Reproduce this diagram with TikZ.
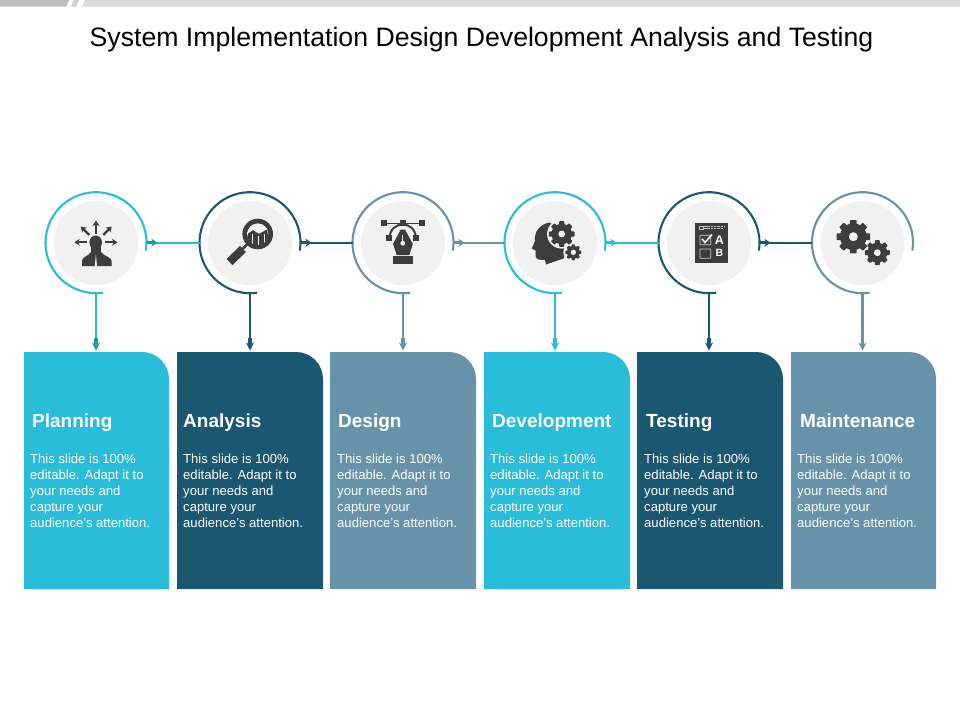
\documentclass[tikz,border=0pt]{standalone}
\usepackage{fontspec}
\setmainfont{Liberation Sans}
\usetikzlibrary{arrows.meta,calc,decorations.markings}
\definecolor{cyanc}{HTML}{29BDD9}
\definecolor{darkc}{HTML}{1A5872}
\definecolor{slatec}{HTML}{6693A9}
\definecolor{tealc}{HTML}{1B9B9B}
\definecolor{softgrey}{HTML}{F1F1F1}
\definecolor{icondark}{HTML}{3D3D3D}
\definecolor{barone}{HTML}{BEBEBE}
\definecolor{bartwo}{HTML}{DADADA}
\tikzset{
  x=1pt,y=1pt,
  ringnode/.style={circle,minimum size=101pt,inner sep=0pt,outer sep=0pt},
  discnode/.style={circle,minimum size=84pt,inner sep=0pt,fill=softgrey},
  cardbox/.style={rectangle,inner sep=0pt,outer sep=0pt},
  headtext/.style={anchor=base west,inner sep=0pt,text=white,font=\fontsize{19}{22}\selectfont\bfseries},
  bodytext/.style={anchor=north west,inner sep=0pt,align=left,text=white,font=\fontsize{13.1}{16}\selectfont},
  arcline/.style={line width=2.1pt},
  linkline/.style={line width=2.1pt},
  icon/.style={fill=icondark,draw=none},
  iconline/.style={draw=icondark,line width=2.3pt,-{Stealth[length=5.5pt,width=7pt]}},
}
\newcommand{\mygear}[5]{%
  \begin{scope}[shift={(#1,#2)}]
    \foreach \ang in {0,45,...,315}{
      \fill[icon,rotate=\ang,rounded corners=0.8pt] ({-.2*#3},0) rectangle ({.2*#3},{#3});
    }
    \fill[icon] (0,0) circle ({.8*#3});
    \fill[#5] (0,0) circle (#4);
  \end{scope}}
\newcommand{\slidetext}{This slide is 100\%\\editable. Adapt it to\\your needs and\\capture your\\audience's attention.}
\begin{document}
\begin{tikzpicture}
\useasboundingbox (0,-720) rectangle (960,0);
\fill[white] (0,-720) rectangle (960,0);
% top bar
\fill[barone] (0,0) -- (69,0) -- (66,-6.5) -- (0,-6.5) -- cycle;
\fill[barone!70!white] (74,0) -- (79,0) -- (76,-6.5) -- (71,-6.5) -- cycle;
\fill[bartwo] (85,0) -- (960,0) -- (960,-6.5) -- (82,-6.5) -- cycle;
% title
\node[anchor=base,inner sep=0pt,font=\fontsize{26.65}{30}\selectfont] (title) at (481.5,-46) {System Implementation Design Development Analysis and Testing};
% cards and rings
\foreach \i/\cx/\xa/\xb/\xh/\xt/\col/\lab in {
  1/96/24/169/32/30/cyanc/Planning,
  2/250/177/323/183/183/darkc/Analysis,
  3/403/330/476/338/337/slatec/Design,
  4/555/484/630/492/490/cyanc/Development,
  5/709/637/783/646/644/darkc/Testing,
  6/862.5/791/936/800/797/slatec/Maintenance}{
  \fill[\col] (\xa,-589) -- (\xa,-352) -- ({\xb-27},-352) arc[start angle=90,end angle=0,radius=27] -- (\xb,-589) -- cycle;
  \node[cardbox,minimum width={(\xb-\xa)*1pt},minimum height=237pt] (card\i) at ({(\xa+\xb)/2},-470.5) {};
  \node[headtext] (head\i) at (\xh,-427) {\lab};
  \node[bodytext] (body\i) at (\xt,-453.3) {\slidetext};
  \node[ringnode] (ring\i) at (\cx,-242.7) {};
  \node[discnode] (disc\i) at (\cx,-243.2) {};
  \draw[\col,arcline] ($(ring\i.center)+(-9:50.5)$) arc[start angle=-9,end angle=278,radius=50.5];
}
% vertical connectors
\foreach \i/\col/\tipc in {1/cyanc/tealc,2/darkc/darkc,3/slatec/slatec,4/cyanc/cyanc,5/darkc/darkc,6/slatec/slatec}{
  \draw[\col,linkline,shorten >=1.5pt,-{Stealth[length=8pt,width=8pt,color=\tipc]}] (ring\i.south) -- (ring\i.south |- card\i.north);
  \draw[\tipc,line width=3.2pt] ($(ring\i.south |- card\i.north)+(0,8)$) -- ++(0,6);
}
% horizontal connectors
\foreach \i/\j/\col/\tipc in {1/2/cyanc/tealc,2/3/darkc/darkc,3/4/slatec/slatec,4/5/cyanc/cyanc,5/6/darkc/darkc}{
  \draw[\col,linkline,postaction={decorate,decoration={markings,mark=at position 11pt with {\arrow[\tipc]{Stealth[length=6pt,width=8pt]}}}}] (ring\i.east) -- (ring\j.west);
  \draw[\tipc,line width=3.2pt] (ring\i.east) -- ++(6,0);
}
% icon 1: person with arrows
\fill[icon] (95.7,-242.5) ellipse (6.3 and 7);
\fill[icon] (90.5,-245) rectangle (101,-256);
\fill[icon] (82,-266) -- (82,-261) .. controls (82,-257) and (88,-256.5) .. (91,-252) -- (101,-252) .. controls (104,-256.5) and (111.7,-257) .. (111.7,-261) -- (111.7,-266) -- cycle;
\fill[softgrey] (95.9,-254) -- (97,-266) -- (94.8,-266) -- cycle;
\draw[iconline] (96,-234) -- (96,-220.5);
\draw[iconline] (89.3,-235) -- (80.7,-226.5);
\draw[iconline] (103.3,-235) -- (111.7,-226.5);
\draw[iconline] (86.7,-242.3) -- (74.3,-242.3);
\draw[iconline] (105,-242.3) -- (117.5,-242.3);
% icon 2: magnifier
\draw[icondark,line width=2.6pt] (250,-241.5) -- (241,-250.5);
\draw[icondark,line width=8.5pt] (243,-249) -- (229.5,-262);
\fill[icon] (257.7,-234) circle (15.3);
\fill[softgrey] (257.7,-234) circle (10.6);
\begin{scope}
  \clip (257.7,-234) circle (11);
  \fill[icon] (248,-233) -- (253,-229.5) -- (259,-233) -- (267,-229) -- (270,-250) -- (246,-250) -- cycle;
  \fill[softgrey] (252.2,-234) rectangle (253.4,-250);
  \fill[softgrey] (258,-236) rectangle (259.2,-250);
  \fill[softgrey] (263.5,-234) rectangle (264.7,-250);
  \draw[white,line width=1.1pt] (246,-234) -- (253,-229.5) -- (259,-233) -- (268,-228);
\end{scope}
% icon 3: pen tool
\draw[icondark,line width=1.6pt] (384.3,-223.3) -- (421.7,-223.3);
\draw[icondark,line width=2pt] (389.3,-238.3) .. controls (390,-229) and (396,-224.5) .. (402.7,-224.5) .. controls (409.5,-224.5) and (415.5,-229) .. (416,-238.3);
\foreach \qx/\qy in {384.3/223.3,402.7/223.3,421.7/223.3,389.3/238.3,416/238.3}{
  \fill[icon] (\qx-3,-\qy-3) rectangle (\qx+3,-\qy+3);
}
\fill[softgrey] (402.7,-228.5) -- (391,-245) -- (414.5,-245) -- cycle;
\fill[icon] (400.7,-229.5) -- (405,-229.5) -- (412.8,-244) -- (409.3,-255) -- (396.7,-255) -- (393,-244) -- cycle;
\fill[softgrey] (402.8,-243.3) circle (2.4);
\draw[softgrey,line width=.9pt] (402.8,-243.3) -- (402.8,-235);
\fill[icon] (392.7,-256) rectangle (413.3,-263.7);
% icon 4: head with gears
\fill[icon] (549,-222.5) .. controls (540,-225) and (534,-231) .. (535,-241) -- (531.7,-248.5) -- (535.5,-250.5) -- (535.5,-256) .. controls (536,-260) and (541,-260) .. (545,-260) -- (546,-264.5) -- (563.5,-258.5) -- (572,-246) -- (560,-228) -- cycle;
\fill[softgrey] (561.7,-234) circle (14.6);
\fill[softgrey] (573.3,-252.3) circle (10);
\mygear{561.7}{-234}{12.8}{3.4}{softgrey}
\mygear{573.3}{-252.3}{8}{2.7}{softgrey}
% icon 5: test sheet
\fill[icon] (695,-223.3) rectangle (728,-263);
\foreach \ly/\lx in {226.5/725,228.5/723.5}{
  \draw[softgrey!75!icondark,line width=.5pt,dash pattern=on 2.5pt off .8pt] (704,-\ly) -- (\lx,-\ly);
}
\draw[softgrey!75!icondark,line width=.5pt] (699,-226) rectangle (703,-229.5);
\draw[softgrey!80!icondark,line width=.8pt,rounded corners=.6pt] (700,-235.3) rectangle (710.7,-244.7);
\draw[softgrey!80!icondark,line width=.8pt,rounded corners=.6pt] (700,-249) rectangle (710.7,-258.3);
\draw[white,line width=1.6pt] (702,-238.8) -- (705,-242.5) -- (712,-234.5);
\node[inner sep=0pt,text=white,font=\fontsize{12.5}{13}\selectfont\bfseries] (optA) at (719.3,-240) {A};
\node[inner sep=0pt,text=white,font=\fontsize{10.5}{12}\selectfont\bfseries] (optB) at (719.3,-253.3) {B};
% icon 6: gears
\mygear{853.3}{-236.7}{16.7}{4.5}{softgrey}
\mygear{877.3}{-252.7}{12.5}{3.4}{softgrey}
\end{tikzpicture}
\end{document}
